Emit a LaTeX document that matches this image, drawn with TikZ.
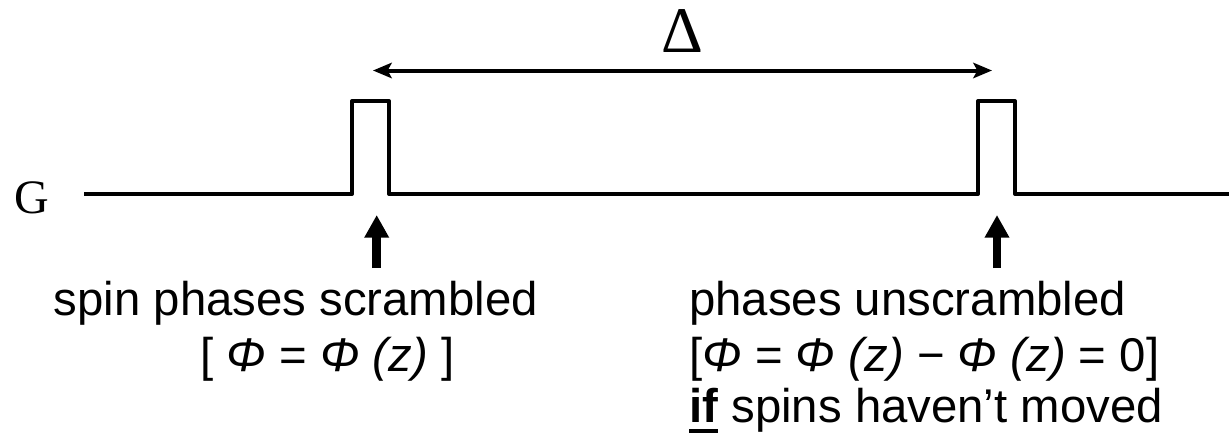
\documentclass[tikz,border=0pt]{standalone}
\usepackage{fontspec}
\setmainfont{Liberation Sans}
\newfontfamily\serifft{Liberation Serif}
\usetikzlibrary{arrows.meta}
\newcommand\myul[1]{\setbox0\hbox{#1}\rlap{\rule[-8pt]{\wd0}{2.8pt}}\box0\relax}
\begin{document}
\begin{tikzpicture}[x=0.75pt,y=-0.75pt,
  wave/.style={line width=3pt, line join=round},
  span/.style={line width=3pt,
    {Stealth[length=14pt,width=11.5pt,inset=3pt]}-{Stealth[length=14pt,width=11.5pt,inset=3pt]}},
  pointer/.style={line width=6.5pt, -{Triangle[length=17pt,width=17.5pt]}},
  txt/.style={inner sep=0pt, anchor=base west, font=\fontsize{35.5}{40}\selectfont},
  serlab/.style={inner sep=0pt, anchor=base, font=\serifft\fontsize{#1}{40}\selectfont}]
\useasboundingbox (0,0) rectangle (1229,433);

% labels
\node[serlab=36] (G) at (31.5,213) {G};
\node[serlab=48.8] (D) at (682,52) {Δ};

% gradient waveform
\coordinate (s)   at (84,194);
\coordinate (p1a) at (352,194);
\coordinate (p1b) at (352,101);
\coordinate (p1c) at (389,101);
\coordinate (p1d) at (389,194);
\coordinate (p2a) at (978,194);
\coordinate (p2b) at (978,101);
\coordinate (p2c) at (1015,101);
\coordinate (p2d) at (1015,194);
\coordinate (e)   at (1229,194);
\draw[wave] (s) -- (p1a) -- (p1b) -- (p1c) -- (p1d) -- (p2a) -- (p2b) -- (p2c) -- (p2d) -- (e);

% Delta span arrow
\coordinate (a1) at (373,70.5);
\coordinate (a2) at (992,70.5);
\draw[span] (a1) -- (a2);

% texts
\node[txt] (L1) at (53.5,315) {spin phases scrambled};
\node[txt] (L2) at (200,371) {[ \textit{Φ} = \textit{Φ (z)} ]};
\node[txt] (R1) at (689,315) {phases unscrambled};
\node[txt] (R2) at (689,371) {[\textit{Φ} = \textit{Φ (z)} − \textit{Φ (z)} = 0]};
\node[txt] (R3) at (689,422) {\myul{\textbf{if}} spins haven’t moved};

% pointer arrows
\coordinate (u1b) at (376.7,268);
\coordinate (u1t) at (376.7,215);
\coordinate (u2b) at (997,268);
\coordinate (u2t) at (997,215);
\draw[pointer] (u1b) -- (u1t);
\draw[pointer] (u2b) -- (u2t);
\end{tikzpicture}
\end{document}
